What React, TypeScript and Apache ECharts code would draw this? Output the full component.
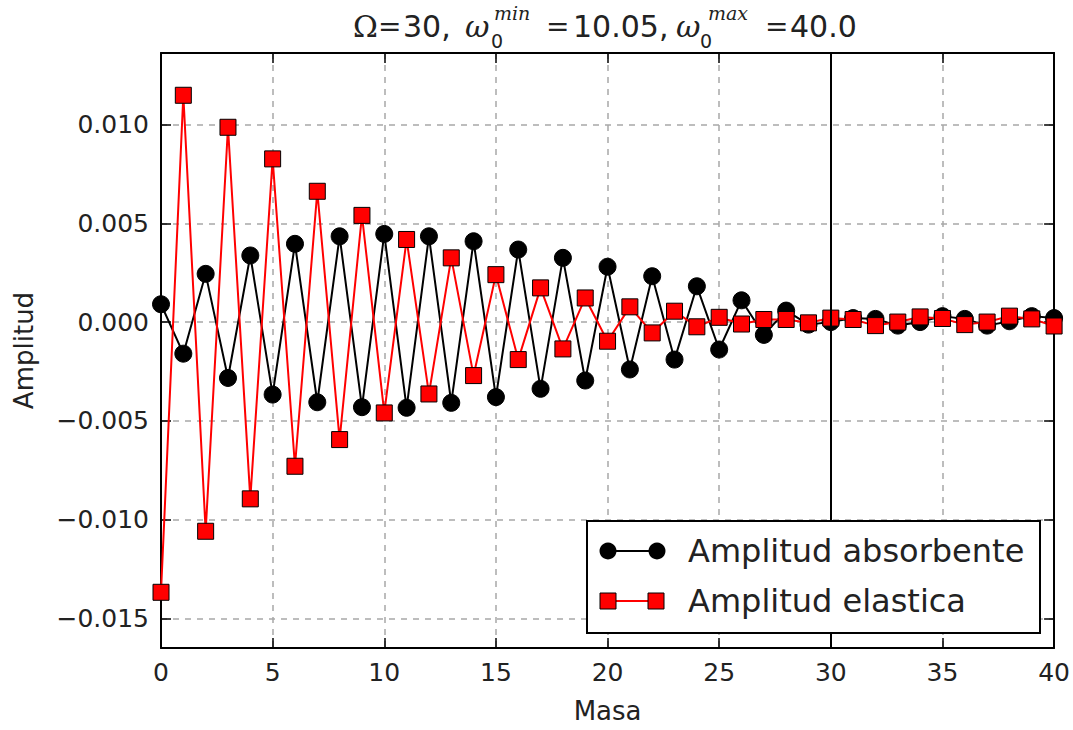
import React, { useEffect, useRef } from "react";
import * as echarts from "echarts";

const masas = [0, 1, 2, 3, 4, 5, 6, 7, 8, 9, 10, 11, 12, 13, 14, 15, 16, 17, 18, 19, 20, 21, 22, 23, 24, 25, 26, 27, 28, 29, 30, 31, 32, 33, 34, 35, 36, 37, 38, 39, 40];

const amplitudAbsorbente = [
  0.0009, -0.0016, 0.00244, -0.00283, 0.00337, -0.00367, 0.00396, -0.00406, 0.00434, -0.00431,
  0.00446, -0.00434, 0.00434, -0.00409, 0.00409, -0.0038, 0.00367, -0.00338, 0.00325, -0.00296,
  0.0028, -0.0024, 0.00232, -0.0019, 0.00181, -0.00139, 0.0011, -0.00065, 0.00058, -0.00013,
  0.0, 0.0002, 0.00016, -0.00018, 0.0, 0.0003, 0.00016, -0.00018, 0.00004, 0.0003, 0.0002,
];

const amplitudElastica = [
  -0.01368, 0.01148, -0.01059, 0.00986, -0.00895, 0.00826, -0.0073, 0.00662, -0.00595, 0.0054,
  -0.0046, 0.00418, -0.00364, 0.00325, -0.00271, 0.0024, -0.0019, 0.00173, -0.00136, 0.00122,
  -0.00097, 0.00077, -0.00055, 0.00055, -0.00024, 0.00024, -0.0001, 0.00013, 0.00013, -0.00004,
  0.0002, 0.00013, -0.00018, 0.0, 0.00026, 0.00018, -0.00013, 0.0, 0.0003, 0.00016, -0.0002,
];

const yTicks = [-0.015, -0.01, -0.005, 0, 0.005, 0.01];
const xMin = 0;
const xMax = 40;
const xInterval = 5;
const yMin = -0.0165;
const yMax = 0.01362;
const omegaLine = 30;

const seriesNames = ["Amplitud absorbente", "Amplitud elastica"];

const FONT = "DejaVu Sans";
const SERIF = "DejaVu Serif";
const TXT = "#222";

function fmtY(v: number): string {
  const s = Math.abs(v).toFixed(3);
  return (v < -1e-12 ? "\u2212" : "") + s;
}

export default function App() {
  const ref = useRef<HTMLDivElement>(null);
  useEffect(() => {
    if (!ref.current) return;
    const chart = echarts.init(ref.current, undefined, { renderer: "svg" });

    const gridLine = { show: true, lineStyle: { color: "#a8a8a8", type: [6, 6] as any, width: 1.5 } };
    const axisLine = { show: true, onZero: false, lineStyle: { color: "#000", width: 2 } };
    const tick = { show: true, inside: true, length: 10, lineStyle: { color: "#000", width: 1.5 } };

    const mainY = 26;
    const supY = 13;
    const subY = 41;
    const mk = (text: string, x: number, y: number, size: number, family: string, italic = false) => ({
      type: "text",
      x,
      y,
      z: 100,
      silent: true,
      style: {
        text,
        fontSize: size,
        fontFamily: family,
        fontStyle: italic ? "italic" : "normal",
        fill: TXT,
        align: "left",
        verticalAlign: "middle",
      },
    });

    const titleParts = [
      mk("\u03A9", 353, mainY, 30, SERIF),
      mk("=", 378, mainY, 28, SERIF),
      mk("30,", 403, mainY, 30, FONT),
      mk("\u03C9", 465, mainY, 30, SERIF, true),
      mk("0", 491, subY, 19, FONT),
      mk("min", 494, supY, 19, SERIF, true),
      mk("=", 546, mainY, 28, SERIF),
      mk("10.05,", 573, mainY, 30, FONT),
      mk("\u03C9", 676, mainY, 30, SERIF, true),
      mk("0", 700, subY, 19, FONT),
      mk("max", 708, supY, 19, SERIF, true),
      mk("=", 765, mainY, 28, SERIF),
      mk("40.0", 790, mainY, 30, FONT),
    ];

    const legend = [
      {
        type: "rect",
        z: 100,
        shape: { x: 587, y: 521, width: 453, height: 112 },
        style: { fill: "#fff", stroke: "#000", lineWidth: 2 },
      },
      { type: "line", z: 101, shape: { x1: 608, y1: 551, x2: 657, y2: 551 }, style: { stroke: "#000", lineWidth: 2 } },
      { type: "circle", z: 102, shape: { cx: 608, cy: 551, r: 8.5 }, style: { fill: "#000" } },
      { type: "circle", z: 102, shape: { cx: 657, cy: 551, r: 8.5 }, style: { fill: "#000" } },
      {
        type: "text",
        z: 102,
        x: 688,
        y: 551,
        style: { text: seriesNames[0], fontSize: 32, fontFamily: FONT, fill: TXT, align: "left", verticalAlign: "middle" },
      },
      { type: "line", z: 101, shape: { x1: 608, y1: 601, x2: 656, y2: 601 }, style: { stroke: "#ff0000", lineWidth: 2 } },
      { type: "rect", z: 102, shape: { x: 600, y: 593, width: 16, height: 16 }, style: { fill: "#ff0000", stroke: "#000", lineWidth: 1 } },
      { type: "rect", z: 102, shape: { x: 648, y: 593, width: 16, height: 16 }, style: { fill: "#ff0000", stroke: "#000", lineWidth: 1 } },
      {
        type: "text",
        z: 102,
        x: 688,
        y: 601,
        style: { text: seriesNames[1], fontSize: 32, fontFamily: FONT, fill: TXT, align: "left", verticalAlign: "middle" },
      },
    ];

    chart.setOption({
      animation: false,
      backgroundColor: "#fff",
      grid: { left: 161, top: 53, width: 894, height: 595, containLabel: false },
      xAxis: [
        {
          type: "value",
          position: "bottom",
          min: xMin,
          max: xMax,
          interval: xInterval,
          name: "Masa",
          nameLocation: "middle",
          nameGap: 50,
          nameTextStyle: { fontSize: 26, fontFamily: FONT, color: TXT },
          axisLine,
          axisTick: tick,
          axisLabel: { fontSize: 25, fontFamily: FONT, color: TXT, margin: 12 },
          splitLine: gridLine,
        },
        {
          type: "value",
          position: "top",
          min: xMin,
          max: xMax,
          interval: xInterval,
          axisLine,
          axisTick: tick,
          axisLabel: { show: false },
          splitLine: { show: false },
        },
      ],
      yAxis: [
        {
          type: "value",
          position: "left",
          min: yMin,
          max: yMax,
          name: "Amplitud",
          nameLocation: "middle",
          nameGap: 124,
          nameRotate: 90,
          nameTextStyle: { fontSize: 26, fontFamily: FONT, color: TXT },
          axisLine,
          axisTick: { ...tick, customValues: yTicks },
          axisLabel: { fontSize: 25, fontFamily: FONT, color: TXT, margin: 12, customValues: yTicks, formatter: (v: number) => fmtY(v) },
          splitLine: gridLine,
        },
        {
          type: "value",
          position: "right",
          min: yMin,
          max: yMax,
          axisLine,
          axisTick: { ...tick, customValues: yTicks },
          axisLabel: { show: false },
          splitLine: { show: false },
        },
      ],
      series: [
        {
          name: seriesNames[0],
          type: "line",
          xAxisIndex: 0,
          yAxisIndex: 0,
          data: masas.map((m, i) => [m, amplitudAbsorbente[i]]),
          symbol: "circle",
          symbolSize: 17,
          showAllSymbol: true,
          itemStyle: { color: "#000", borderColor: "#000", borderWidth: 1 },
          lineStyle: { color: "#000", width: 2 },
          z: 2,
          clip: false,
        },
        {
          name: seriesNames[1],
          type: "line",
          xAxisIndex: 0,
          yAxisIndex: 0,
          data: masas.map((m, i) => [m, amplitudElastica[i]]),
          symbol: "rect",
          symbolSize: 16,
          showAllSymbol: true,
          itemStyle: { color: "#ff0000", borderColor: "#000", borderWidth: 1 },
          lineStyle: { color: "#ff0000", width: 2 },
          z: 3,
          clip: false,
          markLine: {
            silent: true,
            symbol: "none",
            label: { show: false },
            lineStyle: { color: "#000", width: 2, type: "solid" },
            data: [{ xAxis: omegaLine }],
            z: 4,
          },
        },
      ],
      graphic: [...titleParts, ...legend],
    } as any);

    return () => chart.dispose();
  }, []);

  return (
    <div style={{ position: "fixed", left: 0, top: 0, width: 1073, height: 730, background: "#fff" }}>
      <div ref={ref} style={{ width: 1073, height: 730 }} />
    </div>
  );
}
